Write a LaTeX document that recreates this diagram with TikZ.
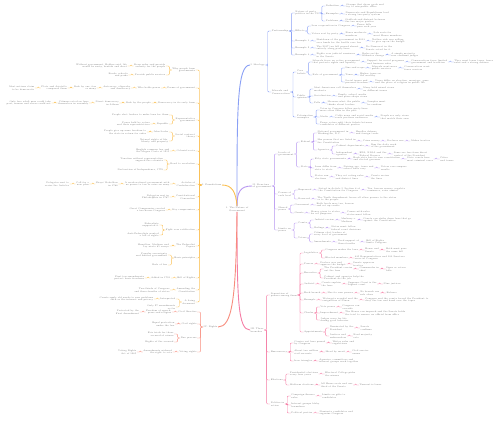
\documentclass[tikz,border=0pt]{standalone}
\usepackage{fontspec}
\usetikzlibrary{positioning}
\definecolor{cblue}{RGB}{138,160,245}
\definecolor{cpurple}{RGB}{183,150,240}
\definecolor{cpink}{RGB}{245,125,165}
\definecolor{cyellow}{RGB}{250,190,80}
\definecolor{csalmon}{RGB}{247,140,125}
\definecolor{ctext}{RGB}{120,120,120}
\tikzset{
  txt/.style={font=\fontsize{2.2}{2.8}\selectfont, text=ctext, inner sep=0.4pt},
  kidr/.style={txt, anchor=west, xshift=6pt, align=left},
  kidl/.style={txt, anchor=east, xshift=-6pt, align=right},
  chr/.style={txt, align=left},
  chl/.style={txt, align=right},
  rc/.style={to path={(\tikztostart.east) -- ++(2.5,0) |- (\tikztotarget.west)}},
  lc/.style={to path={(\tikztostart.west) -- ++(-2.5,0) |- (\tikztotarget.east)}},
  lb/.style={draw=cblue, line width=0.4pt, rounded corners=1pt},
  lp/.style={draw=cpurple, line width=0.4pt, rounded corners=1pt},
  lr/.style={draw=cpink, line width=0.4pt, rounded corners=1pt},
  ly/.style={draw=cyellow, line width=0.4pt, rounded corners=1pt},
  ls/.style={draw=csalmon, line width=0.4pt, rounded corners=1pt},
}
\begin{document}
\begin{tikzpicture}[x=1pt, y=-1pt]
\useasboundingbox (0,0) rectangle (500,420);

% centre
\node[txt, align=center] (c) at (237,209) {1. The Nature of\\Government};

% ideology
\node[txt, anchor=west] (b0) at (250,65) {I. Ideology};
\node[kidr] (ba) at (b0.east |- 0,31) {Partisanship};
\node[kidr] (bb) at (b0.east |- 0,92) {Liberals and\\Conservatives};
\node[kidr] (baa) at (ba.east |- 0,13) {Nature of party\\politics in the US};
\node[kidr] (bab) at (ba.east |- 0,31) {Effects};
\node[kidr] (bac) at (ba.east |- 0,41) {Example 1};
\node[kidr] (bad) at (ba.east |- 0,48) {Example 2};
\node[kidr] (bae) at (ba.east |- 0,55) {Example 3};
\node[kidr] (baa1) at (baa.east |- 0,6) {Definition};
\node[kidr] (baa2) at (baa.east |- 0,14) {Examples};
\node[kidr] (baa3) at (baa.east |- 0,21) {Problems};
\node[chr, right=6pt of baa1] (baa11) {Groups that share goals and\\try to win public office};
\node[chr, right=6pt of baa2] (baa21) {Democrats and Republicans lead\\a strong two-party system};
\node[chr, right=6pt of baa3] (baa31) {Gridlock and distrust between\\the two major parties};
\node[kidr] (bab1) at (bab.east |- 0,26) {Less cooperation in Congress};
\node[kidr] (bab2) at (bab.east |- 0,34) {Voters sort by party};
\node[chr, right=6pt of bab1] (bab11) {Fewer bills\\pass each year};
\node[chr, right=6pt of bab2] (bab21) {Fewer moderate\\members};
\node[chr, right=6pt of bab21] (bab22) {Safe seats for\\most House members};
\node[chr, right=6pt of bac] (bac1) {Shutdown of the government in 2013\\over funds for the health care law};
\node[chr, right=6pt of bac1] (bac11) {Neither side was willing\\to give up on the budget};
\node[chr, right=6pt of bad] (bad1) {The 2017 tax bill passed almost\\entirely along party lines};
\node[chr, right=6pt of bad1] (bad11) {No Democrat in the\\Senate voted for it};
\node[chr, right=6pt of bae] (bae1) {Fights over judicial nominees\\in the Senate};
\node[chr, right=6pt of bae1] (bae11) {Rules on the\\filibuster change};
\node[chr, right=6pt of bae11] (bae12) {A simple majority\\now confirms judges};
\node[kidr] (bba) at (bb.east |- 0,72) {Core\\beliefs};
\node[kidr] (bbb) at (bb.east |- 0,97) {Public\\opinion};
\node[kidr] (bbc) at (bb.east |- 0,117) {Polarization\\examples};
\node[kidr] (bba1) at (bba.east |- 0,62) {Liberals favor an active government\\that protects rights and equality};
\node[kidr] (bba2) at (bba.east |- 0,75) {Role of government};
\node[chr, right=6pt of bba1] (bba11) {Support for social programs\\and business rules};
\node[chr, right=6pt of bba11] (bba12) {Conservatives favor limited\\government and tradition};
\node[chr, right=6pt of bba12] (bba13) {They want lower taxes, fewer\\rules and a strong defense};
\node[kidr] (bba21) at (bba2.east |- 0,68) {Size and scope};
\node[kidr] (bba22) at (bba2.east |- 0,75) {Taxes};
\node[kidr] (bba23) at (bba2.east |- 0,82) {Social issues and\\personal freedom};
\node[chr, right=6pt of bba21] (bba211) {Liberals want more\\public services};
\node[chr, right=6pt of bba211] (bba212) {Conservatives want\\fewer services};
\node[chr, right=6pt of bba22] (bba221) {Higher taxes on\\the wealthy};
\node[chr, right=6pt of bba23] (bba231) {Views differ on abortion, marriage, guns\\and the place of religion in public life};
\node[kidr] (bbb1) at (bbb.east |- 0,89) {Most Americans call themselves\\moderate};
\node[kidr] (bbb2) at (bbb.east |- 0,96) {Socialization};
\node[kidr] (bbb3) at (bbb.east |- 0,103) {Polls};
\node[chr, right=6pt of bbb1] (bbb11) {Many hold mixed views\\on different issues};
\node[chr, right=6pt of bbb2] (bbb21) {Family, school, media\\and peers shape views};
\node[chr, right=6pt of bbb3] (bbb31) {Measure what the public\\thinks about leaders};
\node[chr, right=6pt of bbb31] (bbb32) {Samples must\\be random};
\node[kidr] (bbc1) at (bbc.east |- 0,110) {Votes in Congress follow party lines\\more often than in the past};
\node[kidr] (bbc2) at (bbc.east |- 0,117) {Media};
\node[kidr] (bbc3) at (bbc.east |- 0,124) {Fewer voters split their tickets between\\candidates of different parties};
\node[chr, right=6pt of bbc2] (bbc21) {Cable news and social media\\reach partisan audiences};
\node[chr, right=6pt of bbc21] (bbc22) {People see only views\\that match their own};

\draw[cblue, line width=0.9pt] (c.north) .. controls (237,110) and (237,65) .. (b0.west);
\draw[lb] (b0) edge[rc] (ba) edge[rc] (bb)
  (ba) edge[rc] (baa) edge[rc] (bab) edge[rc] (bac) edge[rc] (bad) edge[rc] (bae)
  (baa) edge[rc] (baa1) edge[rc] (baa2) edge[rc] (baa3)
  (baa1) edge[rc] (baa11) (baa2) edge[rc] (baa21) (baa3) edge[rc] (baa31)
  (bab) edge[rc] (bab1) edge[rc] (bab2)
  (bab1) edge[rc] (bab11) (bab2) edge[rc] (bab21) (bab21) edge[rc] (bab22)
  (bac) edge[rc] (bac1) (bac1) edge[rc] (bac11)
  (bad) edge[rc] (bad1) (bad1) edge[rc] (bad11)
  (bae) edge[rc] (bae1) (bae1) edge[rc] (bae11) (bae11) edge[rc] (bae12)
  (bb) edge[rc] (bba) edge[rc] (bbb) edge[rc] (bbc)
  (bba) edge[rc] (bba1) edge[rc] (bba2)
  (bba1) edge[rc] (bba11) (bba11) edge[rc] (bba12) (bba12) edge[rc] (bba13)
  (bba2) edge[rc] (bba21) edge[rc] (bba22) edge[rc] (bba23)
  (bba21) edge[rc] (bba211) (bba211) edge[rc] (bba212)
  (bba22) edge[rc] (bba221) (bba23) edge[rc] (bba231)
  (bbb) edge[rc] (bbb1) edge[rc] (bbb2) edge[rc] (bbb3)
  (bbb1) edge[rc] (bbb11) (bbb2) edge[rc] (bbb21) (bbb3) edge[rc] (bbb31) (bbb31) edge[rc] (bbb32)
  (bbc) edge[rc] (bbc1) edge[rc] (bbc2) edge[rc] (bbc3)
  (bbc2) edge[rc] (bbc21) (bbc21) edge[rc] (bbc22);

% structure of government
\node[txt, anchor=west, align=left] (p0) at (252,186) {II. Structure\\of government};
\node[kidr] (pa) at (p0.east |- 0,154) {Levels of\\government};
\node[kidr] (pb) at (p0.east |- 0,194) {Powers of\\each level};
\node[kidr] (pc) at (p0.east |- 0,209) {Shared\\power};
\node[kidr] (pd) at (p0.east |- 0,230) {Limits on\\power};
\node[kidr] (paa) at (pa.east |- 0,142) {Federal};
\node[kidr] (pab) at (pa.east |- 0,167) {State};
\node[kidr] (paa1) at (paa.east |- 0,133) {National government in\\Washington, D.C.};
\node[kidr] (paa2) at (paa.east |- 0,141) {Has powers that are listed in\\the Constitution};
\node[kidr] (paa3) at (paa.east |- 0,150) {Agencies};
\node[chr, right=6pt of paa1] (paa11) {Handles defense\\and foreign trade};
\node[chr, right=6pt of paa2] (paa21) {Coins money};
\node[chr, right=6pt of paa21] (paa22) {Declares war};
\node[chr, right=6pt of paa22] (paa23) {Makes treaties};
\node[kidr] (paa31) at (paa3.east |- 0,146) {Cabinet departments};
\node[kidr] (paa32) at (paa3.east |- 0,154) {Independent\\agencies};
\node[chr, right=6pt of paa31] (paa311) {Run the daily work\\of the government};
\node[chr, right=6pt of paa32] (paa321) {EPA, NASA and the\\Federal Reserve};
\node[chr, right=6pt of paa321] (paa322) {Some are free from direct\\control of the President};
\node[kidr] (pab1) at (pab.east |- 0,159) {Fifty state governments};
\node[kidr] (pab2) at (pab.east |- 0,168) {Laws differ from\\state to state};
\node[kidr] (pab3) at (pab.east |- 0,177) {States run\\elections};
\node[chr, right=6pt of pab1] (pab11) {Each state has its own constitution\\and elected governor};
\node[chr, right=6pt of pab11] (pab12) {State courts hear\\most criminal cases};
\node[chr, right=6pt of pab12] (pab13) {Cities\\and towns};
\node[chr, right=6pt of pab2] (pab21) {Driving age, taxes and\\school rules vary};
\node[chr, right=6pt of pab21] (pab22) {Voters can compare\\results};
\node[chr, right=6pt of pab3] (pab31) {They set voting rules\\and district lines};
\node[chr, right=6pt of pab31] (pab32) {Courts review\\the lines};
\node[kidr] (pba) at (pb.east |- 0,190) {Expressed};
\node[kidr] (pbb) at (pb.east |- 0,199) {Reserved};
\node[chr, right=6pt of pba] (pba1) {Listed in Article I, Section 8 of\\the Constitution for Congress};
\node[chr, right=6pt of pba1] (pba11) {Tax, borrow money, regulate\\commerce, raise armies};
\node[chr, right=6pt of pbb] (pbb1) {The Tenth Amendment leaves all other powers to the states\\or to the people};
\node[kidr] (pca) at (pc.east |- 0,205) {Concurrent};
\node[kidr] (pcb) at (pc.east |- 0,213) {Grants};
\node[chr, right=6pt of pca] (pca1) {Both levels may tax, borrow\\and set up courts};
\node[chr, right=6pt of pcb] (pcb1) {Money given to states\\for set purposes};
\node[chr, right=6pt of pcb1] (pcb11) {Comes with rules\\states must follow};
\node[kidr] (pda) at (pd.east |- 0,223) {Courts};
\node[kidr] (pdb) at (pd.east |- 0,238) {Voters};
\node[kidr] (pda1) at (pda.east |- 0,220) {Judicial review};
\node[kidr] (pda2) at (pda.east |- 0,228) {Rulings};
\node[chr, right=6pt of pda1] (pda11) {Marbury v.\\Madison};
\node[chr, right=6pt of pda11] (pda12) {Courts can strike down laws that go\\against the Constitution};
\node[chr, right=6pt of pda2] (pda21) {States must follow\\federal court decisions};
\node[kidr] (pdb1) at (pdb.east |- 0,234) {Citizens elect leaders at\\every level of government};
\node[kidr] (pdb2) at (pdb.east |- 0,242) {Amendments};
\node[chr, right=6pt of pdb2] (pdb21) {Need support of\\three-fourths};
\node[chr, right=6pt of pdb21] (pdb22) {Bill of Rights\\limits Congress};

\draw[cpurple, line width=0.9pt] (c.north) .. controls (237,192) and (240,186) .. (p0.west);
\draw[lp] (p0) edge[rc] (pa) edge[rc] (pb) edge[rc] (pc) edge[rc] (pd)
  (pa) edge[rc] (paa) edge[rc] (pab)
  (paa) edge[rc] (paa1) edge[rc] (paa2) edge[rc] (paa3)
  (paa1) edge[rc] (paa11) (paa2) edge[rc] (paa21) (paa21) edge[rc] (paa22) (paa22) edge[rc] (paa23)
  (paa3) edge[rc] (paa31) edge[rc] (paa32)
  (paa31) edge[rc] (paa311) (paa32) edge[rc] (paa321) (paa321) edge[rc] (paa322)
  (pab) edge[rc] (pab1) edge[rc] (pab2) edge[rc] (pab3)
  (pab1) edge[rc] (pab11) (pab11) edge[rc] (pab12) (pab12) edge[rc] (pab13)
  (pab2) edge[rc] (pab21) (pab21) edge[rc] (pab22)
  (pab3) edge[rc] (pab31) (pab31) edge[rc] (pab32)
  (pb) edge[rc] (pba) edge[rc] (pbb)
  (pba) edge[rc] (pba1) (pba1) edge[rc] (pba11) (pbb) edge[rc] (pbb1)
  (pc) edge[rc] (pca) edge[rc] (pcb)
  (pca) edge[rc] (pca1) (pcb) edge[rc] (pcb1) (pcb1) edge[rc] (pcb11)
  (pd) edge[rc] (pda) edge[rc] (pdb)
  (pda) edge[rc] (pda1) edge[rc] (pda2)
  (pda1) edge[rc] (pda11) (pda11) edge[rc] (pda12) (pda2) edge[rc] (pda21)
  (pdb) edge[rc] (pdb1) edge[rc] (pdb2)
  (pdb2) edge[rc] (pdb21) (pdb21) edge[rc] (pdb22);

% branches
\node[txt, anchor=west, align=left] (r0) at (250,330) {III. Three\\branches};
\node[kidr] (ra) at (r0.east |- 0,295) {Separation of\\powers among them};
\node[kidr] (rb) at (r0.east |- 0,352) {Bureaucracy};
\node[kidr] (rc) at (r0.east |- 0,380) {Elections};
\node[kidr] (rd) at (r0.east |- 0,404) {Politics in\\action};
\node[kidr] (raa) at (ra.east |- 0,253) {Legislative};
\node[kidr] (rab) at (ra.east |- 0,264) {Powers};
\node[kidr] (rac) at (ra.east |- 0,273) {Executive};
\node[kidr] (rad) at (ra.east |- 0,284) {Judicial};
\node[kidr] (rae) at (ra.east |- 0,293) {Each branch};
\node[kidr] (raf) at (ra.east |- 0,300) {Example};
\node[kidr] (rag) at (ra.east |- 0,313) {Checks};
\node[kidr] (rah) at (ra.east |- 0,332) {Appointments};
\node[kidr] (raa1) at (raa.east |- 0,250) {Congress makes the laws};
\node[kidr] (raa2) at (raa.east |- 0,258) {Elected members};
\node[chr, right=6pt of raa1] (raa11) {House and\\Senate};
\node[chr, right=6pt of raa11] (raa12) {Both must pass\\the same bill};
\node[chr, right=6pt of raa2] (raa21) {435 Representatives and 100 Senators\\serve in Congress};
\node[chr, right=6pt of rab] (rab1) {Declare war and\\approve the budget};
\node[chr, right=6pt of rab1] (rab11) {Senate approves\\treaties};
\node[kidr] (rac1) at (rac.east |- 0,269) {The President carries\\out the laws};
\node[kidr] (rac2) at (rac.east |- 0,278) {Cabinet and agencies help the\\President do the job};
\node[chr, right=6pt of rac1] (rac11) {Commander in\\chief};
\node[chr, right=6pt of rac11] (rac12) {Signs or vetoes\\bills};
\node[chr, right=6pt of rad] (rad1) {Courts explain\\the laws};
\node[chr, right=6pt of rad1] (rad11) {Supreme Court is the\\highest court};
\node[chr, right=6pt of rad11] (rad12) {Nine justices};
\node[chr, right=6pt of rae] (rae1) {Has its own powers};
\node[chr, right=6pt of rae1] (rae11) {No branch can\\rule alone};
\node[chr, right=6pt of rae11] (rae12) {Balance};
\node[chr, right=6pt of raf] (raf1) {Watergate scandal and the\\resignation of Nixon};
\node[chr, right=6pt of raf1] (raf11) {Congress and the courts forced the President to\\obey the law and hand over the tapes};
\node[kidr] (rag1) at (rag.east |- 0,307) {Veto power};
\node[kidr] (rag2) at (rag.east |- 0,313) {Impeachment};
\node[kidr] (rag3) at (rag.east |- 0,320) {Judges serve for life\\during good behavior};
\node[chr, right=6pt of rag1] (rag11) {Congress can\\override};
\node[chr, right=6pt of rag2] (rag21) {The House can impeach and the Senate holds\\the trial to remove an official from office};
\node[kidr] (rah1) at (rah.east |- 0,328) {Nominated by the\\President};
\node[kidr] (rah2) at (rah.east |- 0,336) {Justices and\\ambassadors};
\node[chr, right=6pt of rah1] (rah11) {Senate\\confirms};
\node[chr, right=6pt of rah2] (rah21) {Need majority\\vote};
\node[kidr] (rba) at (rb.east |- 0,343) {Carries out laws passed\\by Congress};
\node[kidr] (rbb) at (rb.east |- 0,352) {About two million\\civil servants};
\node[kidr] (rbc) at (rb.east |- 0,361) {Iron triangles};
\node[chr, right=6pt of rba] (rba1) {Writes rules and\\regulations};
\node[chr, right=6pt of rbb] (rbb1) {Hired by merit};
\node[chr, right=6pt of rbb1] (rbb2) {Civil service\\exams};
\node[chr, right=6pt of rbc] (rbc1) {Agencies, committees and\\interest groups work together};
\node[kidr] (rca) at (rc.east |- 0,374) {Presidential elections\\every four years};
\node[kidr] (rcb) at (rc.east |- 0,385) {Midterm elections};
\node[chr, right=6pt of rca] (rca1) {Electoral College picks\\the winner};
\node[chr, right=6pt of rcb] (rcb1) {All House seats and one\\third of the Senate};
\node[chr, right=6pt of rcb1] (rcb2) {Turnout is lower};
\node[kidr] (rda) at (rd.east |- 0,396) {Campaign finance\\rules};
\node[kidr] (rdb) at (rd.east |- 0,405) {Interest groups lobby\\lawmakers};
\node[kidr] (rdc) at (rd.east |- 0,413) {Political parties};
\node[chr, right=6pt of rda] (rda1) {Limits on gifts to\\candidates};
\node[chr, right=6pt of rdc] (rdc1) {Nominate candidates and\\organize Congress};

\draw[cpink, line width=0.9pt] (c.south) .. controls (237,300) and (238,330) .. (r0.west);
\draw[lr] (r0) edge[rc] (ra) edge[rc] (rb) edge[rc] (rc) edge[rc] (rd)
  (ra) edge[rc] (raa) edge[rc] (rab) edge[rc] (rac) edge[rc] (rad) edge[rc] (rae) edge[rc] (raf) edge[rc] (rag) edge[rc] (rah)
  (raa) edge[rc] (raa1) edge[rc] (raa2)
  (raa1) edge[rc] (raa11) (raa11) edge[rc] (raa12) (raa2) edge[rc] (raa21)
  (rab) edge[rc] (rab1) (rab1) edge[rc] (rab11)
  (rac) edge[rc] (rac1) edge[rc] (rac2)
  (rac1) edge[rc] (rac11) (rac11) edge[rc] (rac12)
  (rad) edge[rc] (rad1) (rad1) edge[rc] (rad11) (rad11) edge[rc] (rad12)
  (rae) edge[rc] (rae1) (rae1) edge[rc] (rae11) (rae11) edge[rc] (rae12)
  (raf) edge[rc] (raf1) (raf1) edge[rc] (raf11)
  (rag) edge[rc] (rag1) edge[rc] (rag2) edge[rc] (rag3)
  (rag1) edge[rc] (rag11) (rag2) edge[rc] (rag21)
  (rah) edge[rc] (rah1) edge[rc] (rah2)
  (rah1) edge[rc] (rah11) (rah2) edge[rc] (rah21)
  (rb) edge[rc] (rba) edge[rc] (rbb) edge[rc] (rbc)
  (rba) edge[rc] (rba1) (rbb) edge[rc] (rbb1) (rbb1) edge[rc] (rbb2) (rbc) edge[rc] (rbc1)
  (rc) edge[rc] (rca) edge[rc] (rcb)
  (rca) edge[rc] (rca1) (rcb) edge[rc] (rcb1) (rcb1) edge[rc] (rcb2)
  (rd) edge[rc] (rda) edge[rc] (rdb) edge[rc] (rdc)
  (rda) edge[rc] (rda1) (rdc) edge[rc] (rdc1);

% rights
\node[txt, anchor=east] (s0) at (218,327) {IV. Rights};
\node[kidl] (sa) at (s0.west |- 0,312) {Civil liberties};
\node[kidl] (sb) at (s0.west |- 0,324) {Civil rights};
\node[kidl] (sc) at (s0.west |- 0,338) {Due process};
\node[kidl] (sd) at (s0.west |- 0,352) {Voting rights};
\node[chl, left=6pt of sa] (sa1) {Freedom of speech,\\press and religion};
\node[chl, left=6pt of sa1] (sa11) {Protected by the\\First Amendment};
\node[chl, left=6pt of sb] (sb1) {Equal protection\\under the law};
\node[kidl] (sc1) at (sc.west |- 0,334) {Fair trials for those\\accused of crimes};
\node[kidl] (sc2) at (sc.west |- 0,342) {Rights of the accused};
\node[chl, left=6pt of sd] (sd1) {Amendments widened\\the right to vote};
\node[chl, left=6pt of sd1] (sd11) {Voting Rights\\Act of 1965};

\draw[csalmon, line width=0.9pt] (c.south) .. controls (236,300) and (232,327) .. (s0.east);
\draw[ls] (s0) edge[lc] (sa) edge[lc] (sb) edge[lc] (sc) edge[lc] (sd)
  (sa) edge[lc] (sa1) (sa1) edge[lc] (sa11) (sb) edge[lc] (sb1)
  (sc) edge[lc] (sc1) edge[lc] (sc2)
  (sd) edge[lc] (sd1) (sd1) edge[lc] (sd11);

% foundations
\node[txt, anchor=east] (y0) at (222,185) {I. Foundations};
\node[kidl] (ya) at (y0.west |- 0,70) {Why people form\\governments};
\node[kidl] (yb) at (y0.west |- 0,88) {Forms of government};
\node[kidl] (yc) at (y0.west |- 0,103) {Democracy in its early form};
\node[kidl] (yd) at (y0.west |- 0,120) {Representative\\government};
\node[kidl] (ye) at (y0.west |- 0,136) {Social contract\\theory};
\node[kidl] (yf) at (y0.west |- 0,151) {Colonial roots};
\node[kidl] (yg) at (y0.west |- 0,164) {Road to revolution};
\node[kidl] (yh) at (y0.west |- 0,184) {Articles of\\Confederation};
\node[kidl] (yi) at (y0.west |- 0,197) {Constitutional\\Convention};
\node[kidl] (yj) at (y0.west |- 0,210) {Key compromises};
\node[kidl] (yk) at (y0.west |- 0,230) {Fight over ratification};
\node[kidl] (yl) at (y0.west |- 0,246) {The Federalist\\Papers};
\node[kidl] (ym) at (y0.west |- 0,258) {Basic principles};
\node[kidl] (yn) at (y0.west |- 0,278) {Bill of Rights};
\node[kidl] (yo) at (y0.west |- 0,290) {Amending the\\Constitution};
\node[kidl] (yp) at (y0.west |- 0,302) {A living\\document};
\node[kidl] (ya1) at (ya.west |- 0,66) {Keep order and provide\\security for the people};
\node[kidl] (ya2) at (ya.west |- 0,75) {Provide public services};
\node[chl, left=6pt of ya1] (ya11) {Without government, Hobbes said, life\\would be nasty, brutish and short};
\node[chl, left=6pt of ya2] (ya21) {Roads, schools\\and parks};
\node[chl, left=6pt of yb] (yb1) {Who holds power};
\node[chl, left=6pt of yb1] (yb11) {Autocracy, oligarchy\\and democracy};
\node[chl, left=6pt of yb11] (yb12) {Rule by one, few\\or many};
\node[chl, left=6pt of yb12] (yb13) {Plato and Aristotle\\compared them};
\node[chl, left=6pt of yb13] (yb14) {Most nations claim\\to be democratic};
\node[chl, left=6pt of yc] (yc1) {Rule by the people};
\node[chl, left=6pt of yc1] (yc11) {Direct democracy\\in Athens};
\node[chl, left=6pt of yc11] (yc12) {Citizens voted on laws\\themselves in assembly};
\node[chl, left=6pt of yc12] (yc13) {Only free adult men could take\\part; women and slaves could not};
\node[kidl] (yd1) at (yd.west |- 0,115) {People elect leaders to make laws for them};
\node[kidl] (yd2) at (yd.west |- 0,124) {Republic};
\node[chl, left=6pt of yd2] (yd21) {Power held by voters\\and their representatives};
\node[kidl] (ye1) at (ye.west |- 0,132) {John Locke};
\node[kidl] (ye2) at (ye.west |- 0,141) {Natural rights of life,\\liberty and property};
\node[chl, left=6pt of ye1] (ye11) {People give up some freedom to\\the state in return for order};
\node[chl, left=6pt of yf] (yf1) {English common law and\\the Magna Carta of 1215};
\node[kidl] (yg1) at (yg.west |- 0,160) {Taxation without representation\\angered the colonists};
\node[kidl] (yg2) at (yg.west |- 0,170) {Declaration of Independence, 1776};
\node[chl, left=6pt of yh] (yh1) {A weak national government with\\no power to tax or raise an army};
\node[chl, left=6pt of yh1] (yh11) {Shays' Rebellion\\in 1786};
\node[chl, left=6pt of yh11] (yh12) {Call for a\\new plan};
\node[chl, left=6pt of yh12] (yh13) {Delegates sent to\\revise the Articles};
\node[chl, left=6pt of yi] (yi1) {Delegates met in\\Philadelphia in 1787};
\node[chl, left=6pt of yj] (yj1) {Great Compromise created\\a two-house Congress};
\node[kidl] (yk1) at (yk.west |- 0,225) {Federalists\\supported it};
\node[kidl] (yk2) at (yk.west |- 0,235) {Anti-Federalists wanted\\a bill of rights};
\node[chl, left=6pt of yl] (yl1) {Hamilton, Madison and\\Jay wrote 85 essays};
\node[kidl] (ym1) at (ym.west |- 0,255) {Popular sovereignty\\and limited government};
\node[kidl] (ym2) at (ym.west |- 0,265) {Rule of law};
\node[chl, left=6pt of yn] (yn1) {Added in 1791};
\node[chl, left=6pt of yn1] (yn11) {First ten amendments\\protect basic freedoms};
\node[chl, left=6pt of yo] (yo1) {Two-thirds of Congress\\and three-fourths of states};
\node[kidl] (yp1) at (yp.west |- 0,299) {Interpreted};
\node[kidl] (yp2) at (yp.west |- 0,307) {Only 27 amendments\\so far};
\node[chl, left=6pt of yp1] (yp11) {Courts apply old words to new problems\\such as the internet and privacy};

\draw[cyellow, line width=0.9pt] (c.north) .. controls (236,192) and (232,185) .. (y0.east);
\draw[ly] (y0) edge[lc] (ya) edge[lc] (yb) edge[lc] (yc) edge[lc] (yd) edge[lc] (ye) edge[lc] (yf)
  edge[lc] (yg) edge[lc] (yh) edge[lc] (yi) edge[lc] (yj) edge[lc] (yk) edge[lc] (yl)
  edge[lc] (ym) edge[lc] (yn) edge[lc] (yo) edge[lc] (yp)
  (ya) edge[lc] (ya1) edge[lc] (ya2) (ya1) edge[lc] (ya11) (ya2) edge[lc] (ya21)
  (yb) edge[lc] (yb1) (yb1) edge[lc] (yb11) (yb11) edge[lc] (yb12) (yb12) edge[lc] (yb13) (yb13) edge[lc] (yb14)
  (yc) edge[lc] (yc1) (yc1) edge[lc] (yc11) (yc11) edge[lc] (yc12) (yc12) edge[lc] (yc13)
  (yd) edge[lc] (yd1) edge[lc] (yd2) (yd2) edge[lc] (yd21)
  (ye) edge[lc] (ye1) edge[lc] (ye2) (ye1) edge[lc] (ye11)
  (yf) edge[lc] (yf1)
  (yg) edge[lc] (yg1) edge[lc] (yg2)
  (yh) edge[lc] (yh1) (yh1) edge[lc] (yh11) (yh11) edge[lc] (yh12) (yh12) edge[lc] (yh13)
  (yi) edge[lc] (yi1) (yj) edge[lc] (yj1)
  (yk) edge[lc] (yk1) edge[lc] (yk2)
  (yl) edge[lc] (yl1)
  (ym) edge[lc] (ym1) edge[lc] (ym2)
  (yn) edge[lc] (yn1) (yn1) edge[lc] (yn11)
  (yo) edge[lc] (yo1)
  (yp) edge[lc] (yp1) edge[lc] (yp2) (yp1) edge[lc] (yp11);
\end{tikzpicture}
\end{document}
